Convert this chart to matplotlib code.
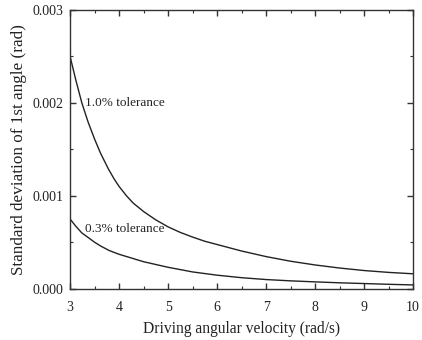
import matplotlib
matplotlib.use('Agg')
import matplotlib.pyplot as plt
from matplotlib.ticker import MultipleLocator, FormatStrFormatter

# driving angular velocity (rad/s) and std of first angle (rad)
omega_10 = [3.0, 3.12, 3.24, 3.37, 3.5, 3.62, 3.78, 3.9, 4.0, 4.15, 4.29, 4.5,
            4.75, 5.0, 5.25, 5.5, 5.75, 6.0, 6.5, 7.0, 7.5, 8.0, 8.5, 9.0, 9.5, 10.0]
std_10 = [0.00250, 0.00224, 0.00200, 0.00179, 0.00161, 0.00146, 0.00129, 0.00118,
          0.00110, 0.00100, 0.00092, 0.00083, 0.00074, 0.000665, 0.000605, 0.000555,
          0.00051, 0.000475, 0.000405, 0.000345, 0.000295, 0.000255, 0.000222,
          0.000195, 0.000175, 0.00016]

omega_03 = [3.0, 3.12, 3.24, 3.37, 3.5, 3.62, 3.8, 4.0, 4.25, 4.5, 4.75, 5.0,
            5.5, 6.0, 6.5, 7.0, 7.5, 8.0, 8.5, 9.0, 9.5, 10.0]
std_03 = [0.00075, 0.00067, 0.00060, 0.00055, 0.00050, 0.00046, 0.00041, 0.00037,
          0.00033, 0.00029, 0.00026, 0.00023, 0.00018, 0.000145, 0.000118, 0.000098,
          0.000084, 0.000073, 0.000063, 0.000055, 0.000047, 0.00004]

label_10 = '1.0% tolerance'
label_03 = '0.3% tolerance'

plt.rcParams['font.family'] = ['Liberation Serif', 'DejaVu Serif']
plt.rcParams['text.color'] = '#222222'
plt.rcParams['axes.labelcolor'] = '#222222'

fig = plt.figure(figsize=(4.22, 3.40), dpi=100)
ax = fig.add_axes([0.166, 0.151, 0.813, 0.820])

ax.plot(omega_10, std_10, color='#222222', lw=1.0)
ax.plot(omega_03, std_03, color='#222222', lw=1.0)

ax.text(3.31, 0.0020, label_10, fontsize=9.5, va='center', ha='left')
ax.text(3.31, 0.00064, label_03, fontsize=9.5, va='center', ha='left')

ax.set_xlim(3, 10)
ax.set_ylim(0, 0.003)
ax.xaxis.set_major_locator(MultipleLocator(1))
ax.xaxis.set_minor_locator(MultipleLocator(0.5))
ax.yaxis.set_major_locator(MultipleLocator(0.001))
ax.yaxis.set_minor_locator(MultipleLocator(0.0005))
ax.yaxis.set_major_formatter(FormatStrFormatter('%.3f'))

ax.tick_params(which='both', direction='in', top=True, right=True,
               labelsize=10, color='#333333', labelcolor='#222222')
ax.tick_params(which='major', length=4, width=1.0)
ax.tick_params(axis='x', which='major', pad=9)
ax.tick_params(axis='y', which='major', pad=5)
ax.tick_params(which='minor', length=2.5, width=0.8)
for sp in ax.spines.values():
    sp.set_linewidth(1.0)
    sp.set_color('#333333')

ax.set_xlabel('Driving angular velocity (rad/s)', fontsize=11.2, labelpad=5)
ax.set_ylabel('Standard deviation of 1st angle (rad)', fontsize=12.3, labelpad=4)

fig.savefig('out.png', dpi=100)
